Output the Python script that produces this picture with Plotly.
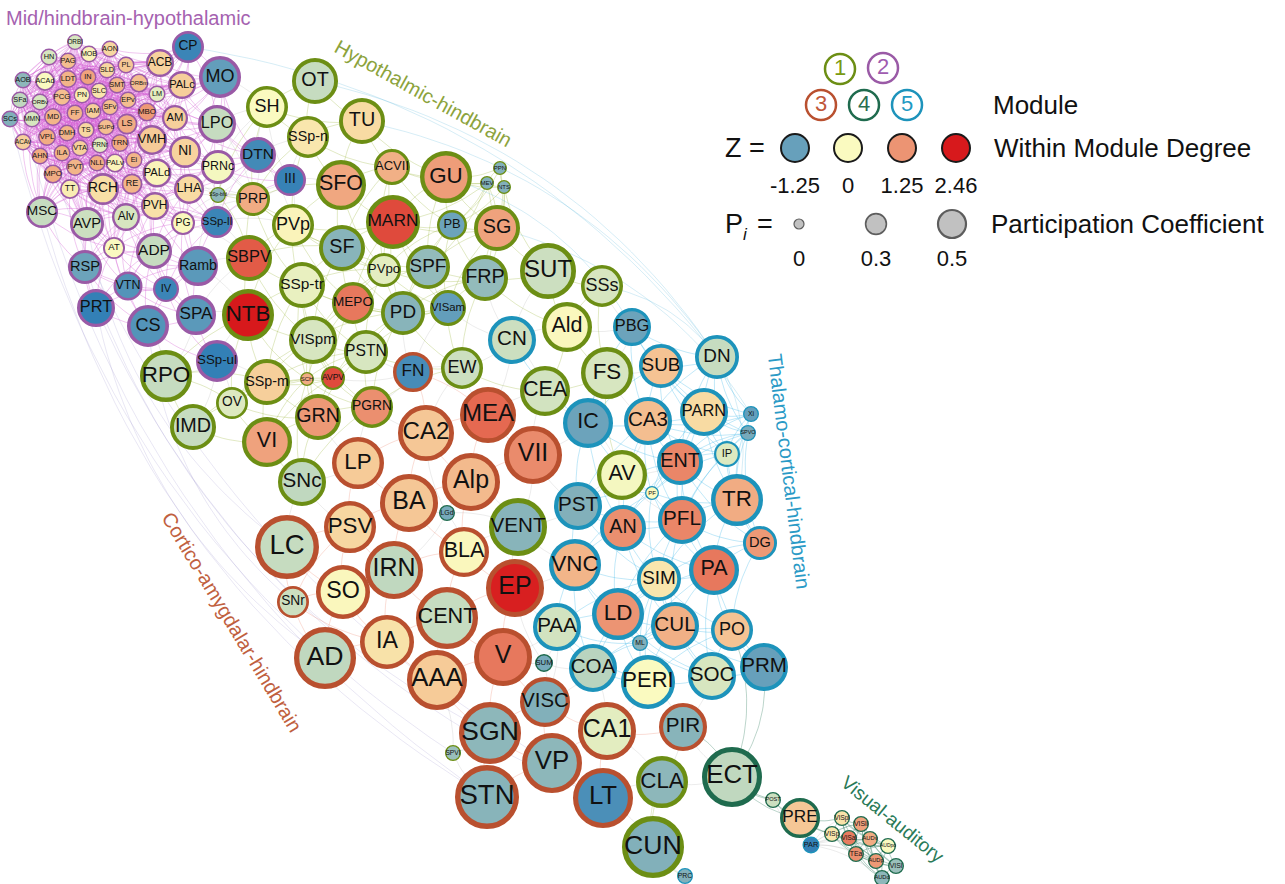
import math
import plotly.graph_objects as go

FONT = "Liberation Sans, Arial, sans-serif"

# ---------------- node data per module ----------------
# Module 1: Hypothalmic-hindbrain
m1_labels = ["OT", "SH", "TU", "SSp-n", "ACVII", "GU", "SFO", "PRP", "PVp", "MARN", "PB", "SG", "SF",
             "SBPV", "PVpo", "SPF", "FRP", "SSp-tr", "MEPO", "PD", "VISam", "NTB", "SSp-bfd", "PPN",
             "MEV", "NTS", "VISpm", "PSTN", "EW", "SSp-m", "SCH", "AVPV", "OV", "RPO", "IMD", "PGRN",
             "GRN", "VI", "SNc", "CEA", "VENT", "SUT", "SSs", "Ald", "FS", "AV", "CLA", "CUN", "SPVI"]
m1_z = [-0.45, 0.0, 0.45, 0.3, 0.95, 1.15, 1.05, 1.0, 0.1, 2.0, -1.2, 1.1, -0.95,
        1.85, -0.2, -0.85, -0.85, -0.15, 1.55, -0.95, -1.3, 2.46, -0.9, -1.0,
        -1.0, -1.0, -0.3, -0.3, -0.4, 0.6, 1.0, 2.0, -0.25, -0.45, -0.45, 1.3,
        1.2, 1.1, -0.5, -0.35, -0.95, -0.4, -0.3, 0.05, -0.3, -0.05, -0.9, -1.0, -0.8]
m1_p = [0.32, 0.28, 0.32, 0.28, 0.22, 0.38, 0.36, 0.20, 0.28, 0.40, 0.16, 0.32, 0.32,
        0.32, 0.20, 0.30, 0.32, 0.32, 0.28, 0.30, 0.22, 0.38, 0.02, 0.00,
        0.00, 0.00, 0.34, 0.30, 0.28, 0.32, 0.00, 0.10, 0.18, 0.38, 0.32, 0.28,
        0.32, 0.36, 0.34, 0.36, 0.44, 0.42, 0.28, 0.36, 0.38, 0.36, 0.38, 0.48, 0.02]

# Module 2: Mid/hindbrain-hypothalamic
m2_labels = ["ORBl", "HN", "PAG", "MOB", "AON", "ACB", "PL", "SLD", "AOB", "ACAd", "LDT", "IN", "SLC",
             "SMT", "ORBm", "PALc", "LM", "SFa", "ORBv", "PCG", "PN", "EPv", "SFv", "MBO", "AM", "SCs",
             "MMN", "MD", "FF", "IAM", "LS", "VMH", "NI", "ACAv", "VPL", "DMH", "TS", "SUPd", "AHN",
             "ILA", "VTA", "PRNr", "TRN", "PALv", "Ei", "NLL", "PVT", "MPO", "TT", "RCH", "RE", "PALd",
             "LHA", "LPO", "PRNc", "MO", "CP", "DTN", "III", "SSp-ll", "PG", "PVH", "Alv", "AVP", "MSC",
             "AT", "ADP", "RSP", "Ramb", "VTN", "IV", "PRT", "CS", "SPA", "SSp-ul"]
m2_z = [-0.3, -0.3, 0.8, 0.1, 0.5, 0.55, 0.7, 0.5, -0.9, 0.0, 0.9, 1.1, 0.3,
        0.9, 0.8, 0.6, -0.2, -0.5, -0.3, 0.8, 0.2, 0.8, 0.8, 1.2, 0.6, -1.0,
        -0.3, 0.9, 0.9, 0.6, 1.0, 0.65, 0.55, 0.6, 1.0, 0.9, 0.5, 0.8, 1.0,
        0.9, 0.6, -0.2, 1.0, 0.1, 0.9, 1.0, 0.9, 1.0, 0.2, 0.4, 0.9, 0.1,
        0.45, -0.45, -0.05, -1.3, -1.8, -1.7, -1.85, -1.8, 0.05, 0.35, -0.3, -0.4, -0.45,
        0.0, -0.45, -1.2, -1.4, -1.5, -1.8, -1.9, -1.5, -1.4, -1.9]
m2_p = [0.02, 0.03, 0.03, 0.03, 0.03, 0.14, 0.03, 0.03, 0.03, 0.06, 0.04, 0.03, 0.03,
        0.03, 0.05, 0.14, 0.03, 0.03, 0.03, 0.04, 0.03, 0.03, 0.03, 0.05, 0.12, 0.03,
        0.03, 0.04, 0.03, 0.03, 0.07, 0.16, 0.18, 0.03, 0.04, 0.03, 0.03, 0.03, 0.03,
        0.03, 0.03, 0.03, 0.04, 0.05, 0.03, 0.03, 0.04, 0.05, 0.06, 0.18, 0.07, 0.15,
        0.16, 0.24, 0.20, 0.28, 0.18, 0.22, 0.18, 0.18, 0.10, 0.14, 0.14, 0.20, 0.18,
        0.08, 0.22, 0.20, 0.26, 0.15, 0.12, 0.24, 0.28, 0.26, 0.28]

# Module 3: Cortico-amygdalar-hindbrain
m3_labels = ["MEA", "CA2", "VII", "LP", "Alp", "BA", "PSV", "LC", "BLA", "IRN", "EP", "SO", "SNr",
             "CENT", "IA", "AD", "V", "AAA", "VISC", "SGN", "CA1", "PIR", "VP", "LT", "STN", "FN"]
m3_z = [1.7, 0.7, 1.35, 0.65, 0.85, 0.7, 0.5, -0.45, 0.05, -0.5, 2.4, 0.05, -0.4,
        -0.45, 0.35, -0.5, 1.55, 0.65, -1.0, -0.9, -0.2, -0.95, -0.9, -1.6, -0.95, -1.65]
m3_p = [0.42, 0.42, 0.44, 0.38, 0.44, 0.44, 0.38, 0.50, 0.36, 0.44, 0.44, 0.40, 0.18,
        0.48, 0.40, 0.48, 0.44, 0.46, 0.36, 0.48, 0.44, 0.34, 0.46, 0.46, 0.50, 0.26]

# Module 4: Visual-auditory
m4_labels = ["ECT", "POST", "PRE", "VISpl", "VISli", "VISp", "VISal", "AUDv", "AUDpo", "TEa",
             "AUDp", "VISl", "AUDd", "SUM", "LGd"]
m4_z = [-0.5, -0.4, 0.7, 0.35, 1.1, 0.3, 1.5, 1.0, 0.0, 1.3, 1.2, -0.8, -0.9, -1.1, -1.1]
m4_p = [0.46, 0.02, 0.26, 0.02, 0.02, 0.02, 0.02, 0.02, 0.02, 0.02, 0.02, 0.02, 0.02, 0.04, 0.02]

# Module 5: Thalamo-cortical-hindbrain
m5_labels = ["CN", "PBG", "SUB", "DN", "IC", "CA3", "PARN", "Xi", "SPVO", "IP", "ENT", "PF", "TR",
             "PST", "AN", "PFL", "DG", "VNC", "SIM", "PA", "LD", "CUL", "PO", "PAA", "ML", "COA",
             "PERI", "SOC", "PRM", "PRC", "PAR"]
m5_z = [-0.4, -1.2, 0.75, -0.45, -1.2, 0.8, 0.45, -1.3, -1.1, -0.25, 1.4, 0.0, 1.0,
        -1.0, 1.3, 1.4, 1.2, 0.9, 0.3, 1.55, 1.25, 0.95, 0.75, -0.35, -1.0, -0.55,
        0.0, -0.3, -1.25, -1.0, -1.9]
m5_p = [0.34, 0.24, 0.30, 0.30, 0.36, 0.34, 0.34, 0.02, 0.02, 0.12, 0.32, 0.00, 0.38,
        0.34, 0.32, 0.34, 0.20, 0.38, 0.30, 0.36, 0.38, 0.34, 0.28, 0.34, 0.02, 0.34,
        0.40, 0.34, 0.34, 0.02, 0.03]

# ---------------- network layout (pixel coordinates) ----------------
m1_x = [315, 267, 362, 308, 392, 446, 341, 253, 293, 393, 452, 497, 342, 249, 384, 428, 485, 302,
        353, 403, 448, 248, 218, 500, 487, 504, 313, 366, 462, 267, 307, 333, 232, 166, 193, 372,
        318, 267, 302, 545, 518, 548, 602, 567, 607, 622, 662, 653, 453]
m1_y = [81, 107, 121, 137, 167, 177, 185, 199, 225, 222, 225, 228, 248, 258, 270, 267, 278, 285,
        303, 313, 308, 315, 195, 168, 183, 187, 340, 352, 368, 382, 379, 378, 403, 376, 427, 407,
        417, 442, 482, 391, 527, 271, 286, 327, 373, 475, 782, 847, 753]
m2_x = [75, 49, 68, 89, 110, 160, 126, 107, 23, 45, 68, 88, 99, 117, 139, 182, 157, 20, 40, 62, 82,
        128, 110, 147, 175, 10, 32, 53, 75, 93, 127, 152, 185, 23, 47, 67, 86, 106, 40, 62, 80,
        100, 120, 115, 134, 97, 75, 53, 70, 103, 132, 157, 189, 217, 218, 220, 188, 258, 290,
        217, 183, 155, 126, 87, 42, 114, 154, 85, 198, 128, 166, 96, 148, 196, 217]
m2_y = [42, 57, 61, 54, 49, 63, 65, 70, 80, 81, 79, 77, 91, 85, 83, 85, 94, 100, 102, 97, 95,
        100, 107, 112, 118, 119, 119, 117, 113, 111, 124, 140, 152, 142, 137, 133, 130, 127, 156,
        153, 148, 145, 143, 163, 160, 163, 167, 174, 189, 189, 184, 173, 189, 124, 167, 77, 47,
        155, 180, 222, 223, 206, 217, 224, 212, 248, 251, 267, 266, 286, 289, 308, 326, 315, 361]
m3_x = [488, 426, 533, 358, 471, 409, 350, 287, 464, 394, 515, 343, 293, 447, 387, 325, 503, 437,
        545, 490, 607, 683, 552, 603, 487, 413]
m3_y = [415, 433, 455, 463, 482, 503, 527, 547, 552, 570, 588, 592, 602, 618, 642, 658, 657, 680,
        702, 733, 731, 727, 763, 798, 797, 372]
m4_x = [732, 773, 800, 842, 861, 832, 849, 870, 888, 856, 876, 896, 882, 544, 447]
m4_y = [777, 800, 818, 818, 824, 834, 838, 839, 846, 854, 861, 866, 878, 663, 513]
m5_x = [512, 632, 661, 717, 588, 648, 704, 751, 748, 727, 680, 652, 737, 578, 623, 682, 760, 575,
        659, 714, 618, 675, 732, 557, 640, 593, 648, 712, 764, 685, 811]
m5_y = [340, 327, 366, 357, 423, 421, 412, 414, 433, 454, 462, 493, 500, 506, 528, 520, 543, 565,
        579, 570, 614, 626, 630, 627, 643, 668, 682, 676, 667, 876, 845]

# long-range connections drawn as wide arcs
long_edges = [("MSC", "STN"), ("RSP", "SGN"), ("PRT", "AD"), ("AVP", "LC"), ("SFa", "STN"),
              ("AOB", "VP"), ("CS", "SNr"), ("PRT", "LT"), ("DN", "OT"), ("DN", "TU"),
              ("DN", "CP"), ("PBG", "GU"), ("DN", "SSs"), ("TR", "DN"), ("ECT", "PIR"),
              ("ECT", "PRM"), ("SCs", "SPVI"), ("Xi", "SG"), ("ECT", "PO"), ("POST", "PRE"),
              ("ECT", "POST"), ("ECT", "PRE"), ("PRE", "PAR"), ("CUN", "PRC"), ("CLA", "CUN")]

# ---------------- styling ----------------
BORDER = {1: "#6c8e14", 2: "#9a5aa6", 3: "#b9502f", 4: "#1f6b4e", 5: "#1d93bb"}
EDGE = {1: "rgba(150,180,50,0.45)", 2: "rgba(212,95,212,0.55)", 3: "rgba(235,125,95,0.40)",
        4: "rgba(40,120,90,0.55)", 5: "rgba(40,175,230,0.45)"}
LONG_EDGE = {1: "rgba(150,180,50,0.35)", 2: "rgba(150,140,200,0.30)", 3: "rgba(220,130,100,0.30)",
             4: "rgba(40,120,90,0.45)", 5: "rgba(60,170,210,0.30)"}
EDGE_THR = {1: 105, 2: 95, 3: 105, 4: 60, 5: 115}
Z_MIN, Z_MAX = -2.0, 2.46
z_stops = [(-2.0, "#2b7bb5"), (-1.25, "#67a0bb"), (-0.9, "#8db7ba"), (-0.45, "#c6dcc0"),
           (0.0, "#fafac0"), (0.4, "#f8dfa6"), (0.75, "#f5c393"), (1.25, "#ec9473"),
           (1.8, "#e3604a"), (2.46, "#d7191c")]
colorscale = [[(v - Z_MIN) / (Z_MAX - Z_MIN), c] for v, c in z_stops]

modules = [
    (1, m1_labels, m1_z, m1_p, m1_x, m1_y),
    (2, m2_labels, m2_z, m2_p, m2_x, m2_y),
    (3, m3_labels, m3_z, m3_p, m3_x, m3_y),
    (4, m4_labels, m4_z, m4_p, m4_x, m4_y),
    (5, m5_labels, m5_z, m5_p, m5_x, m5_y),
]

LAB, MOD, ZV, PV, XS, YS = [], [], [], [], [], []
for m, lab, z, p, xs, ys in modules:
    LAB += lab
    MOD += [m] * len(lab)
    ZV += z
    PV += p
    XS += xs
    YS += ys


def diameter(p):
    return 14 + 100 * p


DIA = [diameter(p) for p in PV]
LW = [max(1.3, 0.085 * d) for d in DIA]

CHAR_W = dict(zip("ABCDEFGHIJKLMNOPQRSTUVWXYZ",
                  [667, 667, 722, 722, 667, 611, 778, 722, 278, 500, 667, 556, 833, 722, 778, 667,
                   778, 722, 667, 611, 722, 667, 944, 667, 667, 611]))
CHAR_W.update(dict(zip("abcdefghijklmnopqrstuvwxyz",
                       [556, 556, 500, 556, 556, 278, 556, 556, 222, 222, 500, 222, 833, 556, 556,
                        556, 556, 333, 500, 278, 556, 500, 722, 500, 500, 500])))
CHAR_W["-"] = 333


def label_size(text, d):
    em = sum(CHAR_W.get(ch, 556) for ch in text) / 1000.0
    return max(5, min(0.43 * d, 0.95 * d / em))


idx = {name: i for i, name in enumerate(LAB)}


def bezier(i, j, k, n=12):
    ax, ay, bx, by = XS[i], YS[i], XS[j], YS[j]
    dx, dy = bx - ax, by - ay
    cx = (ax + bx) / 2 - dy * k
    cy = (ay + by) / 2 + dx * k
    px, py = [], []
    for s in range(n + 1):
        t = s / n
        px.append((1 - t) ** 2 * ax + 2 * (1 - t) * t * cx + t ** 2 * bx)
        py.append((1 - t) ** 2 * ay + 2 * (1 - t) * t * cy + t ** 2 * by)
    return px, py


fig = go.Figure()

# ---- edges ----
N = len(LAB)
groups = {m: ([], []) for m in EDGE}
cross = ([], [])
for i in range(N):
    for j in range(i + 1, N):
        dist = math.hypot(XS[i] - XS[j], YS[i] - YS[j])
        if MOD[i] == MOD[j]:
            if dist < EDGE_THR[MOD[i]]:
                px, py = bezier(i, j, 0.14)
                groups[MOD[i]][0].extend(px + [None])
                groups[MOD[i]][1].extend(py + [None])
        elif dist < 85:
            px, py = bezier(i, j, 0.14)
            cross[0].extend(px + [None])
            cross[1].extend(py + [None])

long_groups = {m: ([], []) for m in EDGE}
for a, b in long_edges:
    i, j = idx[a], idx[b]
    px, py = bezier(i, j, 0.2, n=30)
    long_groups[MOD[i]][0].extend(px + [None])
    long_groups[MOD[i]][1].extend(py + [None])

fig.add_trace(go.Scatter(x=cross[0], y=cross[1], mode="lines",
                         line=dict(color="rgba(130,130,130,0.25)", width=0.6),
                         hoverinfo="skip", showlegend=False))
for m in [1, 3, 5, 4, 2]:
    fig.add_trace(go.Scatter(x=long_groups[m][0], y=long_groups[m][1], mode="lines",
                             line=dict(color=LONG_EDGE[m], width=0.7),
                             hoverinfo="skip", showlegend=False))
    fig.add_trace(go.Scatter(x=groups[m][0], y=groups[m][1], mode="lines",
                             line=dict(color=EDGE[m], width=0.65),
                             hoverinfo="skip", showlegend=False))

# ---- nodes ----
fig.add_trace(go.Scatter(
    x=XS, y=YS, mode="markers",
    marker=dict(size=[d - w for d, w in zip(DIA, LW)], color=ZV, colorscale=colorscale,
                cmin=Z_MIN, cmax=Z_MAX, showscale=False, opacity=1,
                line=dict(color=[BORDER[m] for m in MOD], width=LW)),
    hovertext=LAB, hoverinfo="text", showlegend=False))
fig.add_trace(go.Scatter(
    x=XS, y=YS, mode="text", text=LAB, textposition="middle center",
    textfont=dict(family=FONT, color="#111111", size=[label_size(t, d) for t, d in zip(LAB, DIA)]),
    hoverinfo="skip", showlegend=False))

# ---- module names ----
module_names = [
    ("Mid/hindbrain-hypothalamic", 128, 18, 0, 20, "#a562b0"),
    ("Hypothalmic-hindbrain", 423, 93, 29, 20, "#8ca33c"),
    ("Thalamo-cortical-hindbrain", 789, 471, 83, 20, "#2a9ac6"),
    ("Cortico-amygdalar-hindbrain", 232, 622, 59, 20, "#c0603e"),
    ("Visual-auditory", 893, 819, 39, 19, "#2a7a58"),
]
for text, ax_, ay_, ang, size, col in module_names:
    fig.add_annotation(x=ax_, y=ay_, text=text, showarrow=False, textangle=ang,
                       font=dict(family=FONT, size=size, color=col),
                       xanchor="center", yanchor="middle")

# ---- legend: modules ----
leg_mod = [1, 2, 3, 4, 5]
leg_mod_x = [840, 883, 821, 864, 907]
leg_mod_y = [69, 68, 105, 105, 105]
LEG_TXT = {1: "#7a9a12", 2: "#a05cb0", 3: "#c0573a", 4: "#2a6e50", 5: "#1e9ac4"}
fig.add_trace(go.Scatter(
    x=leg_mod_x, y=leg_mod_y, mode="markers+text", text=[str(m) for m in leg_mod],
    textposition="middle center",
    textfont=dict(family=FONT, size=22, color=[LEG_TXT[m] for m in leg_mod]),
    marker=dict(size=30, color="white", line=dict(color=[BORDER[m] for m in leg_mod], width=2.5)),
    hoverinfo="skip", showlegend=False))

# ---- legend: within-module degree ----
leg_z = [-1.25, 0, 1.25, 2.46]
leg_z_text = ["-1.25", "0", "1.25", "2.46"]
leg_z_x = [795, 848, 902, 956]
fig.add_trace(go.Scatter(
    x=leg_z_x, y=[148] * 4, mode="markers",
    marker=dict(size=28, color=leg_z, colorscale=colorscale, cmin=Z_MIN, cmax=Z_MAX,
                showscale=False, line=dict(color="#1a1a1a", width=2)),
    hoverinfo="skip", showlegend=False))
fig.add_trace(go.Scatter(
    x=leg_z_x, y=[187] * 4, mode="text", text=leg_z_text,
    textfont=dict(family=FONT, size=22, color="#111111"),
    hoverinfo="skip", showlegend=False))

# ---- legend: participation coefficient ----
leg_p = [0, 0.3, 0.5]
leg_p_text = ["0", "0.3", "0.5"]
leg_p_x = [799, 876, 952]
fig.add_trace(go.Scatter(
    x=leg_p_x, y=[224] * 3, mode="markers",
    marker=dict(size=[10 + 36 * p for p in leg_p], color="#a8a8a8",
                line=dict(color="#1a1a1a", width=[1.2, 1.6, 2.2])),
    hoverinfo="skip", showlegend=False))
fig.add_trace(go.Scatter(
    x=leg_p_x, y=[260] * 3, mode="text", text=leg_p_text,
    textfont=dict(family=FONT, size=22, color="#111111"),
    hoverinfo="skip", showlegend=False))

legend_texts = [("Module", 991, 105, 26, "normal"), ("Within Module Degree", 992, 148, 26, "normal"),
                ("Participation Coefficient", 989, 224, 26, "normal"),
                ("Z =", 723, 148, 27, "normal"), ("P", 723, 224, 27, "normal"),
                ("i", 741, 234, 17, "italic"), ("=", 755, 224, 27, "normal")]
for text, lx, ly, size, style in legend_texts:
    fig.add_annotation(x=lx, y=ly, text=text, showarrow=False, xanchor="left", yanchor="middle",
                       font=dict(family=FONT, size=size, color="#111111", style=style))

fig.update_layout(
    width=1285, height=884, margin=dict(l=0, r=0, t=0, b=0),
    paper_bgcolor="white", plot_bgcolor="white",
    xaxis=dict(range=[0, 1285], visible=False, fixedrange=True),
    yaxis=dict(range=[884, 0], visible=False, fixedrange=True),
    showlegend=False,
)

fig.write_html("out.html")
